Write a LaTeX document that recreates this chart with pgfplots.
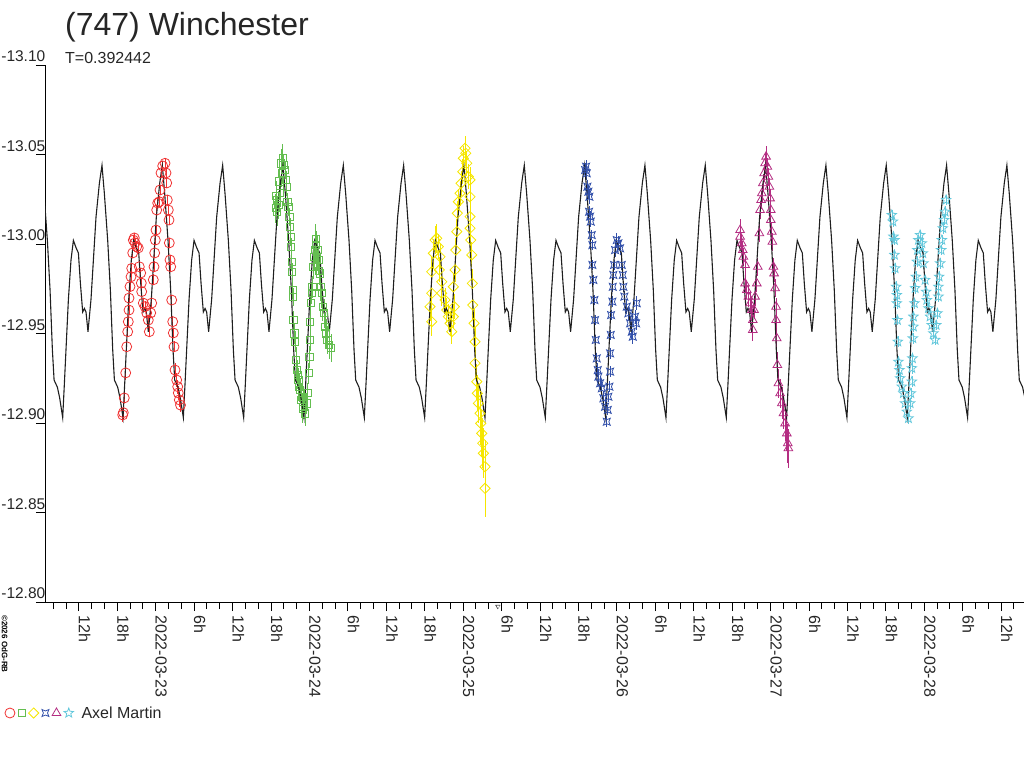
\documentclass[border=0pt]{standalone}
\usepackage{pgfplots}
\pgfplotsset{compat=1.18}
\usepackage{pgfplotstable}
\usepackage{fontspec}
\setmainfont{Liberation Sans}
\usetikzlibrary{plotmarks}

\definecolor{cred}{RGB}{240,50,50}
\definecolor{cgreen}{RGB}{100,190,80}
\definecolor{cyellow}{RGB}{245,230,0}
\definecolor{cblue}{RGB}{50,80,170}
\definecolor{cmag}{RGB}{180,45,130}
\definecolor{ccyan}{RGB}{100,200,220}

\pgfdeclareplotmark{pinch}{%
  \pgfpathmoveto{\pgfqpoint{-\pgfplotmarksize}{-\pgfplotmarksize}}%
  \pgfpathcurveto{\pgfqpoint{-0.3\pgfplotmarksize}{-0.45\pgfplotmarksize}}{\pgfqpoint{0.3\pgfplotmarksize}{-0.45\pgfplotmarksize}}{\pgfqpoint{\pgfplotmarksize}{-\pgfplotmarksize}}%
  \pgfpathcurveto{\pgfqpoint{0.45\pgfplotmarksize}{-0.3\pgfplotmarksize}}{\pgfqpoint{0.45\pgfplotmarksize}{0.3\pgfplotmarksize}}{\pgfqpoint{\pgfplotmarksize}{\pgfplotmarksize}}%
  \pgfpathcurveto{\pgfqpoint{0.3\pgfplotmarksize}{0.45\pgfplotmarksize}}{\pgfqpoint{-0.3\pgfplotmarksize}{0.45\pgfplotmarksize}}{\pgfqpoint{-\pgfplotmarksize}{\pgfplotmarksize}}%
  \pgfpathcurveto{\pgfqpoint{-0.45\pgfplotmarksize}{0.3\pgfplotmarksize}}{\pgfqpoint{-0.45\pgfplotmarksize}{-0.3\pgfplotmarksize}}{\pgfqpoint{-\pgfplotmarksize}{-\pgfplotmarksize}}%
  \pgfpathclose
  \pgfusepathqstroke
}
\pgfdeclareplotmark{ostar}{%
  \pgfpathmoveto{\pgfqpointpolar{90}{\pgfplotmarksize}}%
  \pgfpathlineto{\pgfqpointpolar{126}{0.42\pgfplotmarksize}}%
  \pgfpathlineto{\pgfqpointpolar{162}{\pgfplotmarksize}}%
  \pgfpathlineto{\pgfqpointpolar{198}{0.42\pgfplotmarksize}}%
  \pgfpathlineto{\pgfqpointpolar{234}{\pgfplotmarksize}}%
  \pgfpathlineto{\pgfqpointpolar{270}{0.42\pgfplotmarksize}}%
  \pgfpathlineto{\pgfqpointpolar{306}{\pgfplotmarksize}}%
  \pgfpathlineto{\pgfqpointpolar{342}{0.42\pgfplotmarksize}}%
  \pgfpathlineto{\pgfqpointpolar{18}{\pgfplotmarksize}}%
  \pgfpathlineto{\pgfqpointpolar{54}{0.42\pgfplotmarksize}}%
  \pgfpathclose
  \pgfusepathqstroke
}

% model curve (Fourier fit), days from 2022-03-23 0h UT
\pgfplotstableread{
t m
-0.7262 -13.028
-0.7047 -13.002
-0.6872 -12.974
-0.6722 -12.941
-0.6611 -12.924
-0.6397 -12.920
-0.6247 -12.914
-0.6051 -12.903
-0.5941 -12.922
-0.5836 -12.941
-0.5680 -12.969
-0.5511 -12.991
-0.5355 -13.002
-0.5186 -12.998
-0.5029 -12.995
-0.4899 -12.978
-0.4750 -12.962
-0.4639 -12.964
-0.4535 -12.962
-0.4405 -12.951
-0.4210 -12.969
-0.4054 -12.991
-0.3884 -13.015
-0.3663 -13.034
-0.3494 -13.044
-0.3338 -13.028
-0.3123 -13.002
-0.2948 -12.974
-0.2798 -12.941
-0.2687 -12.924
-0.2473 -12.920
-0.2323 -12.914
-0.2127 -12.903
-0.2017 -12.922
-0.1912 -12.941
-0.1756 -12.969
-0.1587 -12.991
-0.1431 -13.002
-0.1262 -12.998
-0.1105 -12.995
-0.0975 -12.978
-0.0826 -12.962
-0.0715 -12.964
-0.0611 -12.962
-0.0481 -12.951
-0.0286 -12.969
-0.0130 -12.991
0.0040 -13.015
0.0261 -13.034
0.0430 -13.044
0.0586 -13.028
0.0801 -13.002
0.0976 -12.974
0.1126 -12.941
0.1237 -12.924
0.1451 -12.920
0.1601 -12.914
0.1798 -12.903
0.1908 -12.922
0.2013 -12.941
0.2169 -12.969
0.2338 -12.991
0.2494 -13.002
0.2663 -12.998
0.2820 -12.995
0.2950 -12.978
0.3099 -12.962
0.3210 -12.964
0.3314 -12.962
0.3444 -12.951
0.3639 -12.969
0.3795 -12.991
0.3965 -13.015
0.4186 -13.034
0.4355 -13.044
0.4511 -13.028
0.4726 -13.002
0.4901 -12.974
0.5051 -12.941
0.5162 -12.924
0.5376 -12.920
0.5526 -12.914
0.5722 -12.903
0.5832 -12.922
0.5937 -12.941
0.6093 -12.969
0.6262 -12.991
0.6418 -13.002
0.6587 -12.998
0.6744 -12.995
0.6874 -12.978
0.7023 -12.962
0.7134 -12.964
0.7238 -12.962
0.7368 -12.951
0.7563 -12.969
0.7719 -12.991
0.7889 -13.015
0.8110 -13.034
0.8279 -13.044
0.8435 -13.028
0.8650 -13.002
0.8825 -12.974
0.8975 -12.941
0.9086 -12.924
0.9300 -12.920
0.9450 -12.914
0.9647 -12.903
0.9757 -12.922
0.9862 -12.941
1.0018 -12.969
1.0187 -12.991
1.0343 -13.002
1.0512 -12.998
1.0669 -12.995
1.0799 -12.978
1.0948 -12.962
1.1059 -12.964
1.1163 -12.962
1.1293 -12.951
1.1488 -12.969
1.1644 -12.991
1.1814 -13.015
1.2035 -13.034
1.2204 -13.044
1.2360 -13.028
1.2575 -13.002
1.2750 -12.974
1.2900 -12.941
1.3011 -12.924
1.3225 -12.920
1.3375 -12.914
1.3571 -12.903
1.3681 -12.922
1.3786 -12.941
1.3942 -12.969
1.4111 -12.991
1.4267 -13.002
1.4436 -12.998
1.4593 -12.995
1.4723 -12.978
1.4872 -12.962
1.4983 -12.964
1.5087 -12.962
1.5217 -12.951
1.5412 -12.969
1.5568 -12.991
1.5738 -13.015
1.5959 -13.034
1.6128 -13.044
1.6284 -13.028
1.6499 -13.002
1.6674 -12.974
1.6824 -12.941
1.6935 -12.924
1.7149 -12.920
1.7299 -12.914
1.7496 -12.903
1.7606 -12.922
1.7711 -12.941
1.7867 -12.969
1.8036 -12.991
1.8192 -13.002
1.8361 -12.998
1.8518 -12.995
1.8648 -12.978
1.8797 -12.962
1.8908 -12.964
1.9012 -12.962
1.9142 -12.951
1.9337 -12.969
1.9493 -12.991
1.9663 -13.015
1.9884 -13.034
2.0053 -13.044
2.0209 -13.028
2.0424 -13.002
2.0599 -12.974
2.0749 -12.941
2.0860 -12.924
2.1074 -12.920
2.1224 -12.914
2.1420 -12.903
2.1530 -12.922
2.1635 -12.941
2.1791 -12.969
2.1960 -12.991
2.2116 -13.002
2.2285 -12.998
2.2442 -12.995
2.2572 -12.978
2.2721 -12.962
2.2832 -12.964
2.2936 -12.962
2.3066 -12.951
2.3261 -12.969
2.3417 -12.991
2.3587 -13.015
2.3808 -13.034
2.3977 -13.044
2.4133 -13.028
2.4348 -13.002
2.4523 -12.974
2.4673 -12.941
2.4784 -12.924
2.4998 -12.920
2.5148 -12.914
2.5344 -12.903
2.5454 -12.922
2.5559 -12.941
2.5715 -12.969
2.5884 -12.991
2.6040 -13.002
2.6209 -12.998
2.6366 -12.995
2.6496 -12.978
2.6645 -12.962
2.6756 -12.964
2.6860 -12.962
2.6990 -12.951
2.7185 -12.969
2.7341 -12.991
2.7511 -13.015
2.7732 -13.034
2.7901 -13.044
2.8057 -13.028
2.8272 -13.002
2.8447 -12.974
2.8597 -12.941
2.8708 -12.924
2.8922 -12.920
2.9072 -12.914
2.9269 -12.903
2.9379 -12.922
2.9484 -12.941
2.9640 -12.969
2.9809 -12.991
2.9965 -13.002
3.0134 -12.998
3.0291 -12.995
3.0421 -12.978
3.0570 -12.962
3.0681 -12.964
3.0785 -12.962
3.0915 -12.951
3.1110 -12.969
3.1266 -12.991
3.1436 -13.015
3.1657 -13.034
3.1826 -13.044
3.1982 -13.028
3.2197 -13.002
3.2372 -12.974
3.2522 -12.941
3.2633 -12.924
3.2847 -12.920
3.2997 -12.914
3.3193 -12.903
3.3303 -12.922
3.3408 -12.941
3.3564 -12.969
3.3733 -12.991
3.3889 -13.002
3.4058 -12.998
3.4215 -12.995
3.4345 -12.978
3.4494 -12.962
3.4605 -12.964
3.4709 -12.962
3.4839 -12.951
3.5034 -12.969
3.5190 -12.991
3.5360 -13.015
3.5581 -13.034
3.5750 -13.044
3.5906 -13.028
3.6121 -13.002
3.6296 -12.974
3.6446 -12.941
3.6557 -12.924
3.6771 -12.920
3.6921 -12.914
3.7118 -12.903
3.7228 -12.922
3.7333 -12.941
3.7489 -12.969
3.7658 -12.991
3.7814 -13.002
3.7983 -12.998
3.8140 -12.995
3.8270 -12.978
3.8419 -12.962
3.8530 -12.964
3.8634 -12.962
3.8764 -12.951
3.8959 -12.969
3.9115 -12.991
3.9285 -13.015
3.9506 -13.034
3.9675 -13.044
3.9831 -13.028
4.0046 -13.002
4.0221 -12.974
4.0371 -12.941
4.0482 -12.924
4.0696 -12.920
4.0846 -12.914
4.1042 -12.903
4.1152 -12.922
4.1257 -12.941
4.1413 -12.969
4.1582 -12.991
4.1738 -13.002
4.1907 -12.998
4.2064 -12.995
4.2194 -12.978
4.2343 -12.962
4.2454 -12.964
4.2558 -12.962
4.2688 -12.951
4.2883 -12.969
4.3039 -12.991
4.3209 -13.015
4.3430 -13.034
4.3599 -13.044
4.3755 -13.028
4.3970 -13.002
4.4145 -12.974
4.4295 -12.941
4.4406 -12.924
4.4620 -12.920
4.4770 -12.914
4.4966 -12.903
4.5076 -12.922
4.5181 -12.941
4.5337 -12.969
4.5506 -12.991
4.5662 -13.002
4.5831 -12.998
4.5988 -12.995
4.6118 -12.978
4.6267 -12.962
4.6378 -12.964
4.6482 -12.962
4.6612 -12.951
4.6807 -12.969
4.6963 -12.991
4.7133 -13.015
4.7354 -13.034
4.7523 -13.044
4.7679 -13.028
4.7894 -13.002
4.8069 -12.974
4.8219 -12.941
4.8330 -12.924
4.8544 -12.920
4.8694 -12.914
4.8891 -12.903
4.9001 -12.922
4.9106 -12.941
4.9262 -12.969
4.9431 -12.991
4.9587 -13.002
4.9756 -12.998
4.9913 -12.995
5.0043 -12.978
5.0192 -12.962
5.0303 -12.964
5.0407 -12.962
5.0537 -12.951
5.0732 -12.969
5.0888 -12.991
5.1058 -13.015
5.1279 -13.034
5.1448 -13.044
5.1604 -13.028
5.1819 -13.002
5.1994 -12.974
5.2144 -12.941
5.2255 -12.924
5.2469 -12.920
5.2619 -12.914
5.2815 -12.903
5.2925 -12.922
5.3030 -12.941
5.3186 -12.969
5.3355 -12.991
5.3511 -13.002
5.3680 -12.998
5.3837 -12.995
5.3967 -12.978
5.4116 -12.962
5.4227 -12.964
5.4331 -12.962
5.4461 -12.951
5.4656 -12.969
5.4812 -12.991
5.4982 -13.015
5.5203 -13.034
5.5372 -13.044
5.5528 -13.028
5.5743 -13.002
5.5918 -12.974
5.6068 -12.941
5.6179 -12.924
5.6393 -12.920
5.6543 -12.914
5.6740 -12.903
}\tabModel

\pgfplotstableread{
x y e
-0.2147 -12.9045 0.004
-0.2108 -12.9058 0.004
-0.2043 -12.9140 0.003
-0.1952 -12.9280 0.004
-0.1887 -12.9426 0.003
-0.1822 -12.9510 0.003
-0.1783 -12.9566 0.003
-0.1737 -12.9631 0.003
-0.1737 -12.9698 0.003
-0.1672 -12.9762 0.003
-0.1607 -12.9817 0.003
-0.1561 -12.9864 0.003
-0.1496 -12.9950 0.003
-0.1457 -13.0022 0.003
-0.1392 -13.0034 0.003
-0.1347 -13.0006 0.003
-0.1236 -12.9985 0.003
-0.1132 -12.9978 0.003
-0.1067 -12.9873 0.003
-0.0976 -12.9838 0.003
-0.0937 -12.9782 0.003
-0.0911 -12.9734 0.003
-0.0807 -12.9670 0.003
-0.0696 -12.9650 0.003
-0.0586 -12.9615 0.003
-0.0481 -12.9575 0.003
-0.0416 -12.9510 0.003
-0.0325 -12.9615 0.003
-0.0260 -12.9670 0.003
-0.0156 -12.9800 0.003
-0.0111 -12.9873 0.003
-0.0065 -12.9950 0.003
-0.0026 -13.0022 0.003
0.0020 -13.0078 0.003
0.0065 -13.0190 0.003
0.0130 -13.0229 0.003
0.0234 -13.0236 0.003
0.0280 -13.0302 0.003
0.0345 -13.0397 0.003
0.0455 -13.0436 0.003
0.0605 -13.0451 0.003
0.0670 -13.0397 0.003
0.0716 -13.0341 0.003
0.0755 -13.0246 0.003
0.0820 -13.0190 0.003
0.0865 -13.0134 0.003
0.0885 -13.0006 0.003
0.0930 -12.9911 0.003
0.0976 -12.9873 0.003
0.1041 -12.9687 0.003
0.1106 -12.9566 0.003
0.1145 -12.9503 0.003
0.1191 -12.9426 0.003
0.1256 -12.9296 0.004
0.1366 -12.9240 0.004
0.1431 -12.9203 0.004
0.1470 -12.9168 0.004
0.1535 -12.9129 0.004
0.1614 -12.9100 0.004
}\tabRed

\pgfplotstableread{
x y e
0.7807 -13.0200 0.008
0.7840 -13.0270 0.008
0.7872 -13.0246 0.008
0.7905 -13.0180 0.008
0.7977 -13.0218 0.008
0.8040 -13.0350 0.008
0.8087 -13.0285 0.008
0.8150 -13.0450 0.008
0.8198 -13.0397 0.008
0.8250 -13.0480 0.008
0.8302 -13.0441 0.006
0.8413 -13.0413 0.005
0.8478 -13.0358 0.005
0.8523 -13.0320 0.005
0.8562 -13.0236 0.005
0.8627 -13.0208 0.005
0.8692 -13.0153 0.005
0.8738 -13.0097 0.005
0.8783 -13.0041 0.005
0.8803 -12.9985 0.005
0.8848 -12.9901 0.005
0.8868 -12.9845 0.005
0.8913 -12.9743 0.005
0.8933 -12.9706 0.005
0.8952 -12.9575 0.005
0.9018 -12.9501 0.006
0.9063 -12.9454 0.006
0.9128 -12.9352 0.007
0.9174 -12.9296 0.007
0.9230 -12.9270 0.008
0.9278 -12.9240 0.007
0.9330 -12.9200 0.008
0.9388 -12.9184 0.007
0.9440 -12.9130 0.008
0.9499 -12.9147 0.007
0.9550 -12.9080 0.008
0.9603 -12.9091 0.007
0.9714 -12.9054 0.007
0.9824 -12.9110 0.006
0.9889 -12.9166 0.006
0.9954 -12.9278 0.006
0.9993 -12.9370 0.006
1.0039 -12.9464 0.006
1.0039 -12.9566 0.006
1.0085 -12.9669 0.006
1.0150 -12.9725 0.006
1.0189 -12.9761 0.006
1.0254 -12.9873 0.007
1.0300 -12.9930 0.008
1.0364 -12.9966 0.008
1.0400 -13.0030 0.008
1.0430 -12.9994 0.008
1.0470 -12.9920 0.008
1.0514 -12.9966 0.008
1.0579 -12.9911 0.008
1.0620 -12.9850 0.008
1.0690 -12.9836 0.008
1.0735 -12.9761 0.008
1.0800 -12.9725 0.008
1.0865 -12.9650 0.008
1.0950 -12.9613 0.008
1.1015 -12.9538 0.008
1.1080 -12.9501 0.008
1.1165 -12.9464 0.008
1.1275 -12.9436 0.008
1.1405 -12.9419 0.008
}\tabGreen

\pgfplotstableread{
x y e
1.7847 -12.9650 0.008
1.7957 -12.9566 0.008
1.7957 -12.9725 0.008
1.7957 -12.9845 0.008
1.8061 -12.9948 0.008
1.8172 -13.0022 0.008
1.8282 -13.0032 0.008
1.8386 -12.9985 0.007
1.8497 -12.9929 0.007
1.8452 -12.9855 0.007
1.8608 -12.9789 0.007
1.8608 -12.9725 0.007
1.8822 -12.9687 0.007
1.8933 -12.9631 0.007
1.9037 -12.9594 0.007
1.9148 -12.9557 0.007
1.9258 -12.9510 0.007
1.9362 -12.9594 0.007
1.9427 -12.9650 0.007
1.9362 -12.9761 0.007
1.9473 -12.9855 0.007
1.9519 -12.9966 0.007
1.9584 -13.0069 0.007
1.9623 -13.0172 0.007
1.9688 -13.0236 0.007
1.9798 -13.0283 0.007
1.9863 -13.0339 0.007
1.9974 -13.0404 0.007
2.0013 -13.0479 0.007
2.0124 -13.0535 0.007
2.0169 -13.0507 0.007
2.0234 -13.0451 0.007
2.0338 -13.0376 0.007
2.0449 -13.0358 0.007
2.0449 -13.0264 0.007
2.0449 -13.0153 0.007
2.0449 -13.0088 0.007
2.0494 -13.0022 0.007
2.0559 -12.9939 0.007
2.0598 -12.9780 0.008
2.0625 -12.9659 0.008
2.0709 -12.9557 0.008
2.0774 -12.9454 0.008
2.0774 -12.9334 0.009
2.0885 -12.9231 0.010
2.0924 -12.9166 0.010
2.0989 -12.9110 0.011
2.1100 -12.9054 0.012
2.1145 -12.8998 0.012
2.1210 -12.8942 0.013
2.1275 -12.8887 0.014
2.1314 -12.8831 0.014
2.1425 -12.8756 0.015
2.1425 -12.8635 0.016
}\tabYellow

\pgfplotstableread{
x y e
2.7931 -13.0413 0.004
2.7996 -13.0432 0.004
2.8042 -13.0395 0.004
2.8081 -13.0320 0.004
2.8146 -13.0292 0.004
2.8211 -13.0264 0.004
2.8191 -13.0180 0.003
2.8256 -13.0153 0.003
2.8302 -13.0125 0.003
2.8367 -13.0050 0.003
2.8406 -12.9994 0.003
2.8406 -12.9883 0.003
2.8471 -12.9799 0.003
2.8536 -12.9687 0.003
2.8581 -12.9575 0.003
2.8627 -12.9464 0.003
2.8692 -12.9361 0.003
2.8757 -12.9296 0.004
2.8796 -12.9259 0.004
2.8907 -12.9222 0.004
2.9018 -12.9194 0.004
2.9122 -12.9138 0.004
2.9232 -12.9091 0.004
2.9343 -12.9007 0.003
2.9408 -12.9073 0.003
2.9447 -12.9147 0.003
2.9512 -12.9203 0.003
2.9558 -12.9287 0.003
2.9558 -12.9389 0.003
2.9603 -12.9492 0.003
2.9623 -12.9603 0.003
2.9707 -12.9678 0.003
2.9733 -12.9761 0.003
2.9772 -12.9827 0.003
2.9818 -12.9883 0.003
2.9883 -12.9966 0.004
2.9993 -13.0022 0.004
3.0098 -13.0004 0.004
3.0208 -12.9976 0.004
3.0319 -12.9883 0.003
3.0384 -12.9827 0.003
3.0423 -12.9761 0.003
3.0488 -12.9706 0.003
3.0644 -12.9650 0.004
3.0748 -12.9613 0.004
3.0859 -12.9557 0.004
3.0969 -12.9510 0.004
3.1034 -12.9482 0.004
3.1184 -12.9594 0.004
3.1295 -12.9669 0.004
3.1249 -12.9557 0.004
}\tabBlue

\pgfplotstableread{
x y e
3.8016 -13.0078 0.006
3.8016 -13.0041 0.006
3.8126 -13.0004 0.005
3.8191 -12.9966 0.005
3.8230 -12.9929 0.005
3.8341 -12.9883 0.005
3.8341 -12.9780 0.005
3.8452 -12.9743 0.005
3.8556 -12.9706 0.006
3.8666 -12.9669 0.006
3.8777 -12.9631 0.006
3.8842 -12.9575 0.006
3.8842 -12.9520 0.006
3.8927 -12.9631 0.005
3.8992 -12.9706 0.005
3.9102 -12.9780 0.005
3.9167 -12.9873 0.005
3.9271 -13.0060 0.005
3.9317 -13.0190 0.005
3.9382 -13.0246 0.005
3.9428 -13.0283 0.005
3.9493 -13.0339 0.005
3.9577 -13.0395 0.005
3.9642 -13.0451 0.006
3.9707 -13.0488 0.006
3.9792 -13.0432 0.005
3.9857 -13.0376 0.005
3.9922 -13.0320 0.005
3.9967 -13.0255 0.005
4.0013 -13.0190 0.005
4.0013 -13.0134 0.005
4.0078 -13.0069 0.005
4.0117 -13.0013 0.005
4.0182 -12.9873 0.005
4.0228 -12.9836 0.005
4.0293 -12.9753 0.005
4.0358 -12.9650 0.005
4.0358 -12.9575 0.005
4.0403 -12.9473 0.006
4.0442 -12.9324 0.007
4.0507 -12.9222 0.008
4.0618 -12.9166 0.008
4.0729 -12.9110 0.009
4.0833 -12.9054 0.009
4.0944 -12.8998 0.010
4.1054 -12.8942 0.010
4.1119 -12.8887 0.011
4.1158 -12.8859 0.011
}\tabMagenta

\pgfplotstableread{
x y e
4.7886 -13.0162 0.003
4.7951 -13.0125 0.003
4.7990 -13.0041 0.003
4.8055 -13.0022 0.003
4.8055 -12.9939 0.003
4.8100 -12.9864 0.003
4.8165 -12.9761 0.003
4.8211 -12.9715 0.003
4.8211 -12.9669 0.003
4.8250 -12.9575 0.003
4.8276 -12.9454 0.003
4.8315 -12.9342 0.003
4.8380 -12.9296 0.003
4.8426 -12.9250 0.003
4.8536 -12.9203 0.003
4.8640 -12.9166 0.003
4.8751 -12.9110 0.003
4.8861 -12.9063 0.003
4.8966 -12.9026 0.003
4.9076 -12.9110 0.003
4.9122 -12.9166 0.003
4.9187 -12.9231 0.003
4.9187 -12.9306 0.003
4.9226 -12.9361 0.003
4.9252 -12.9473 0.003
4.9291 -12.9538 0.003
4.9291 -12.9594 0.003
4.9356 -12.9669 0.003
4.9402 -12.9753 0.003
4.9447 -12.9817 0.003
4.9512 -12.9901 0.003
4.9551 -12.9966 0.003
4.9616 -13.0022 0.003
4.9727 -13.0050 0.003
4.9837 -13.0004 0.003
4.9902 -12.9948 0.003
4.9941 -12.9892 0.003
5.0052 -12.9799 0.003
5.0117 -12.9733 0.003
5.0163 -12.9687 0.003
5.0267 -12.9641 0.003
5.0377 -12.9594 0.003
5.0488 -12.9547 0.003
5.0592 -12.9501 0.003
5.0703 -12.9464 0.003
5.0768 -12.9547 0.003
5.0852 -12.9613 0.003
5.0917 -12.9706 0.003
5.0917 -12.9761 0.003
5.0963 -12.9817 0.003
5.1028 -12.9892 0.003
5.1093 -12.9966 0.003
5.1139 -13.0022 0.003
5.1204 -13.0088 0.003
5.1288 -13.0134 0.003
5.1353 -13.0180 0.003
5.1418 -13.0246 0.003
}\tabCyan

\begin{document}
\begin{tikzpicture}[x=1pt,y=1pt]
\useasboundingbox (0,0) rectangle (1024,768);
\begin{axis}[
  at={(45pt,166pt)}, anchor=south west,
  scale only axis, width=979pt, height=537pt,
  xmin=-0.7202, xmax=5.6486,
  ymin=-13.10, ymax=-12.80, y dir=reverse,
  axis x line*=bottom, axis y line*=left,
  axis line style={-, black, line width=1pt},
  tick style={black, line width=1pt},
  tick align=outside,
  major tick length=9pt, minor tick length=7pt,
  ytick={-13.10,-13.05,-13.00,-12.95,-12.90,-12.85,-12.80},
  yticklabels={-13.10,-13.05,-13.00,-12.95,-12.90,-12.85,-12.80},
  xtick={-0.5,-0.25,0,0.25,0.5,0.75,1,1.25,1.5,1.75,2,2.25,2.5,2.75,3,3.25,3.5,3.75,4,4.25,4.5,4.75,5,5.25,5.5},
  xticklabels={12h,18h,2022-03-23,6h,12h,18h,2022-03-24,6h,12h,18h,2022-03-25,6h,12h,18h,2022-03-26,6h,12h,18h,2022-03-27,6h,12h,18h,2022-03-28,6h,12h},
  minor xtick={-0.666667,-0.583333,...,5.62},
  tick label style={font=\fontsize{16}{19}\selectfont, text=black!85},
  xticklabel style={yshift=-4pt, rotate=-90, anchor=base west, inner sep=0pt},
  yticklabel style={anchor=south east, inner sep=0pt, xshift=9.5pt, yshift=3pt, font=\fontsize{15.5}{18}\selectfont},
  error bars/y dir=both, error bars/y explicit, error bars/error mark=none,
  legend columns=6,
  legend style={at={(-0.0409,-0.2067)}, anchor=west, draw=none, fill=none,
    inner sep=0pt, outer sep=0pt,
    nodes={inner sep=0pt, font=\fontsize{16}{19}\selectfont, text=black!85},
    /tikz/column sep=0pt,
    /tikz/every even column/.style={column sep=2.2pt}},
  legend image code/.code={\draw[#1] plot coordinates {(0pt,0pt)};},
]
\addplot[only marks, mark=o, mark size=5pt, color=cred, mark options={line width=0.8pt},
  error bars/error bar style={cred, line width=0.6pt}]
  table[x=x, y=y, y error=e] {\tabRed};
\addlegendentry{\mbox{}}
\addplot[only marks, mark=square, mark size=3.6pt, color=cgreen, mark options={line width=0.8pt},
  error bars/error bar style={cgreen, line width=0.6pt}]
  table[x=x, y=y, y error=e] {\tabGreen};
\addlegendentry{\mbox{}}
\addplot[only marks, mark=square, mark size=3.6pt, color=cyellow, mark options={rotate=45, line width=0.8pt},
  error bars/error bar style={cyellow, line width=0.6pt}]
  table[x=x, y=y, y error=e] {\tabYellow};
\addlegendentry{\mbox{}}
\addplot[only marks, mark=pinch, mark size=3.5pt, color=cblue, mark options={line width=0.8pt},
  error bars/error bar style={cblue, line width=0.6pt}]
  table[x=x, y=y, y error=e] {\tabBlue};
\addlegendentry{\mbox{}}
\addplot[only marks, mark=triangle, mark size=5pt, color=cmag, mark options={line width=0.8pt},
  error bars/error bar style={cmag, line width=0.6pt}]
  table[x=x, y=y, y error=e] {\tabMagenta};
\addlegendentry{\mbox{}}
\addplot[only marks, mark=ostar, mark size=5pt, color=ccyan, mark options={line width=0.8pt},
  error bars/error bar style={ccyan, line width=0.6pt}]
  table[x=x, y=y, y error=e] {\tabCyan};
\addlegendentry{\hspace{8pt}Axel Martin}
\addplot[no marks, color=black!88, line width=1.1pt, forget plot] table[x=t, y=m] {\tabModel};
\end{axis}
\node[anchor=base west, inner sep=0pt, font=\fontsize{32}{38}\selectfont, text=black!85] at (65,732) {(747) Winchester};
\node[anchor=base west, inner sep=0pt, font=\fontsize{16}{19}\selectfont, text=black!85] at (65,704) {T=0.392442};
\node[rotate=-90, anchor=base west, inner sep=0pt, font=\fontsize{8}{9}\selectfont\bfseries] at (2,153) {©2026 OdG-RB};
\node[inner sep=0pt, font=\fontsize{6}{7}\selectfont] at (498,161) {$\nabla$};
\end{tikzpicture}
\end{document}
